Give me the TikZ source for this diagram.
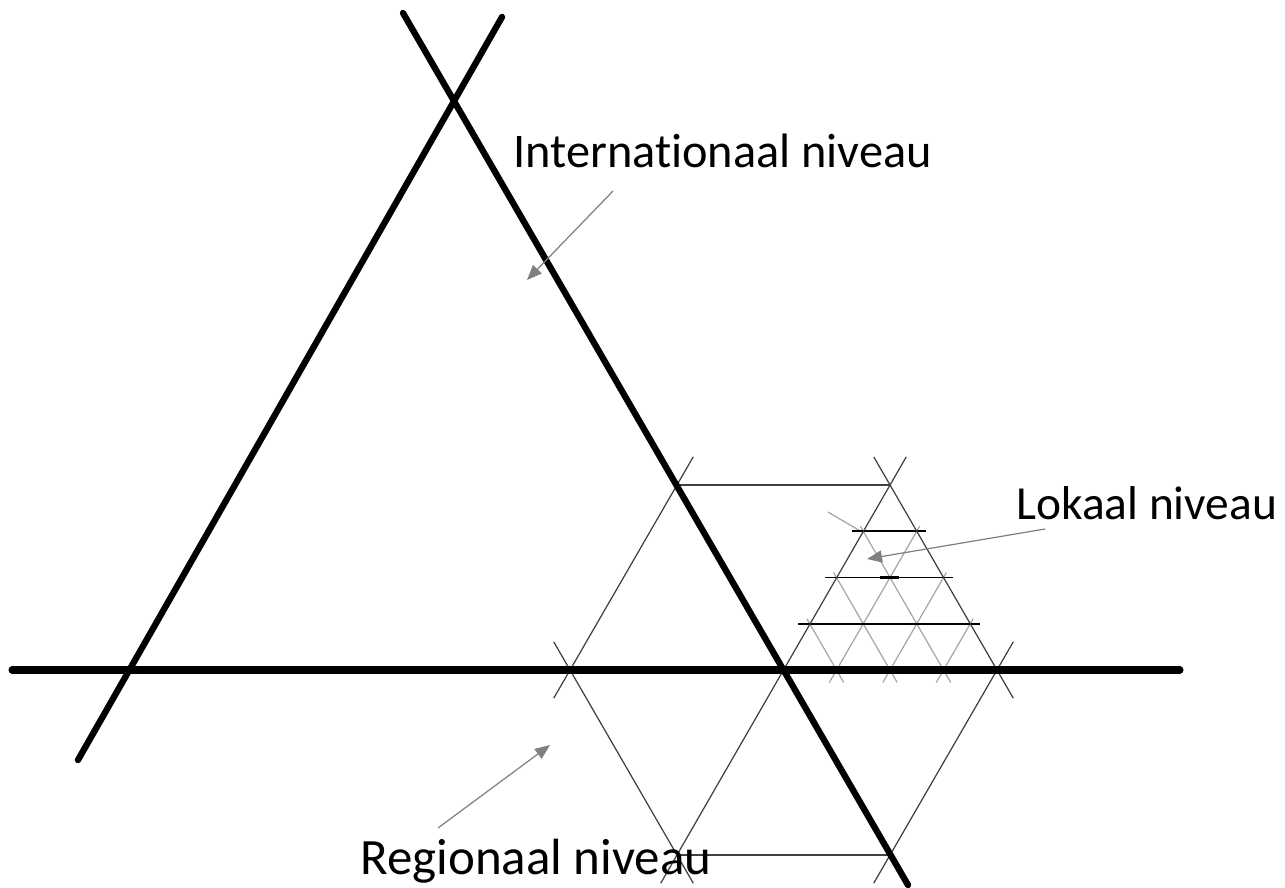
\documentclass[tikz,border=0pt]{standalone}
\usepackage{fontspec}
\setmainfont{Carlito}[Ligatures=NoCommon]
\usetikzlibrary{arrows.meta,calc}

\begin{document}
\begin{tikzpicture}[
    bigline/.style={line width=3.6pt, line cap=round},
    midline/.style={black!75, line width=0.7pt},
    rung/.style={black, line width=1pt},
    fineline/.style={black!35, line width=0.7pt},
    pointer/.style={black!50, line width=0.7pt, -{Triangle[length=3mm, width=2.4mm]}},
    levellabel/.style={anchor=base west, inner sep=0pt, font=\fontsize{27}{32}\selectfont}
]
    \useasboundingbox (0,0) rectangle (25.7,-17.76);

    % Lokaal niveau: fijn raster
    \draw[fineline] (16.586,-13.65) -- (18.393,-10.525);
    \draw[fineline] (17.656,-13.65) -- (18.928,-11.45);
    \draw[fineline] (18.726,-13.65) -- (19.463,-12.375);
    \draw[fineline] (17.207,-10.525) -- (19.014,-13.65);
    \draw[fineline] (16.672,-11.45) -- (17.944,-13.65);
    \draw[fineline] (16.137,-12.375) -- (16.874,-13.65);
    \draw[fineline] (16.56,-10.24) -- (17.24,-10.64);

    % Lokaal niveau: horizontale lijnen
    \draw[rung] (17.04,-10.625) -- (18.52,-10.625);
    \draw[rung] (16.5,-11.55) -- (19.06,-11.55);
    \draw[line width=2pt] (17.6,-11.55) -- (17.98,-11.55);
    \draw[rung] (15.96,-12.475) -- (19.6,-12.475);

    % Regionaal niveau
    \draw[midline] (11.075,-13.963) -- (13.865,-9.137);
    \draw[midline] (11.075,-12.837) -- (13.865,-17.663);
    \draw[midline] (13.215,-17.663) -- (18.125,-9.137);
    \draw[midline] (17.475,-9.137) -- (20.265,-13.963);
    \draw[midline] (17.475,-17.663) -- (20.265,-12.837);
    \draw[midline] (13.54,-9.7) -- (17.8,-9.7);
    \draw[midline] (13.54,-17.1) -- (17.8,-17.1);

    % Internationaal niveau
    \draw[bigline] (1.56,-15.2) -- (10.04,-0.34);
    \draw[bigline] (8.06,-0.26) -- (18.16,-17.7);
    \draw[bigline, line width=4pt] (0.24,-13.4) -- (23.6,-13.4);

    % Labels
    \node[levellabel, font=\fontsize{27.5}{32}\selectfont] (intl) at (10.26,-3.36) {Internationaal niveau};
    \node[levellabel] (lokaal) at (20.32,-10.38) {Lokaal niveau};
    \node[levellabel, font=\fontsize{29}{34}\selectfont] (regio) at (7.2,-17.48) {Regionaal niveau};

    % Pijlen
    \coordinate (intl tail) at (12.26,-3.82);
    \coordinate (intl tip) at (10.54,-5.6);
    \coordinate (lokaal tail) at (20.9,-10.58);
    \coordinate (lokaal tip) at (17.34,-11.18);
    \coordinate (regio tail) at (8.76,-16.56);
    \coordinate (regio tip) at (11.0,-14.9);
    \draw[pointer] (intl tail) -- (intl tip);
    \draw[pointer] (lokaal tail) -- (lokaal tip);
    \draw[pointer] (regio tail) -- (regio tip);
\end{tikzpicture}
\end{document}
